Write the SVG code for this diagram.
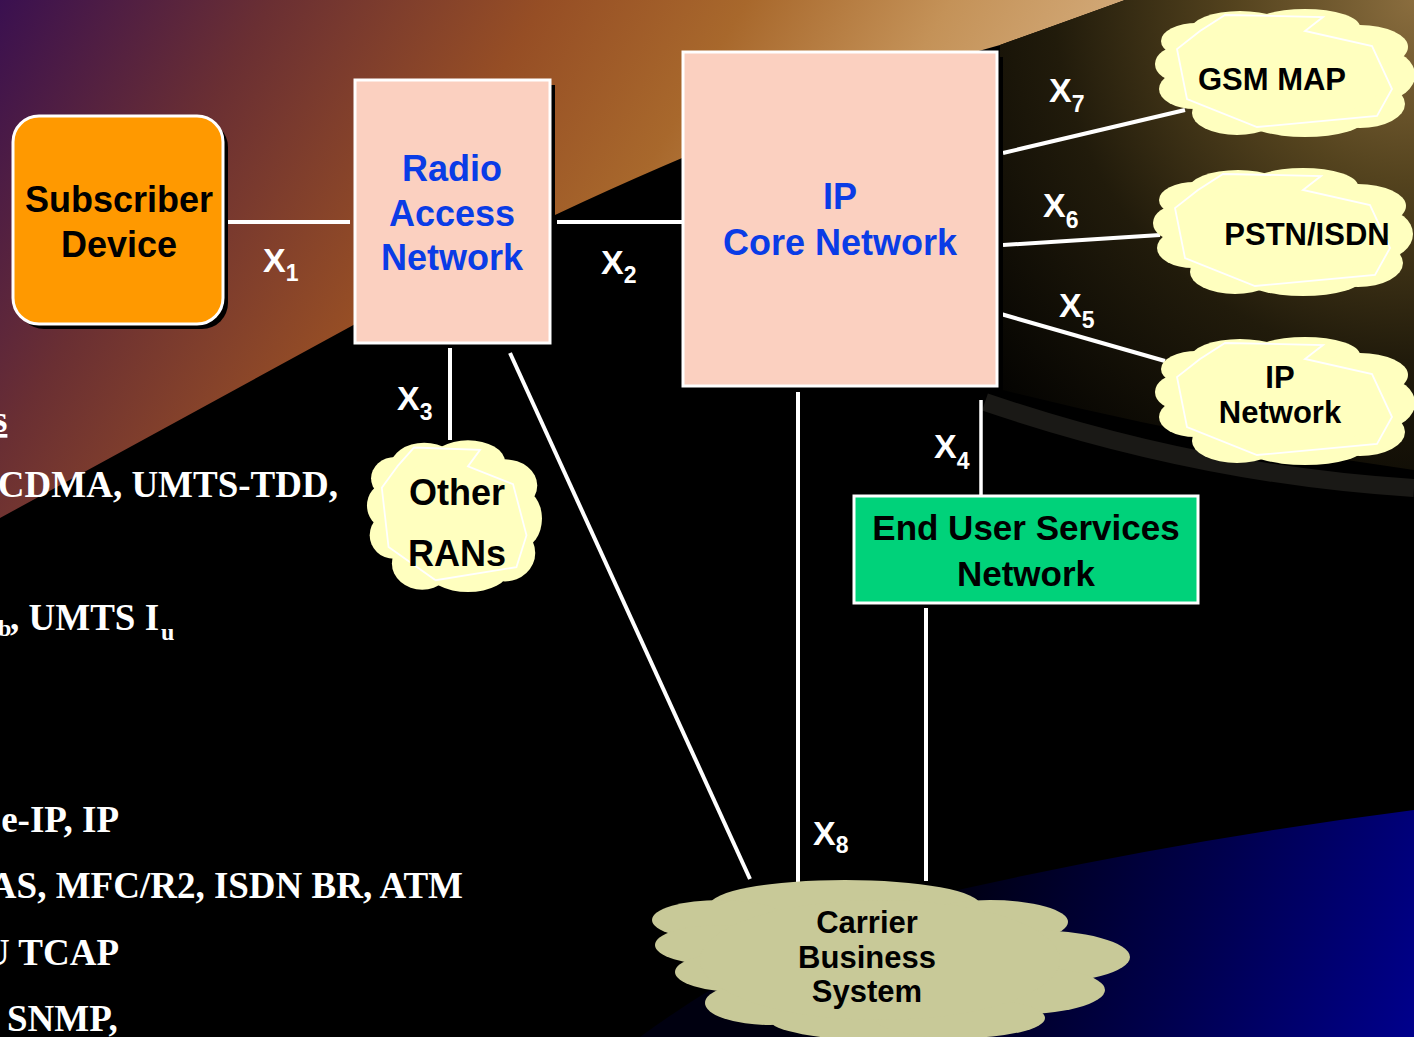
<svg xmlns="http://www.w3.org/2000/svg" xmlns:xlink="http://www.w3.org/1999/xlink" width="1414" height="1037" viewBox="0 0 1414 1037">
<style>
.box{stroke:#ffffff;stroke-width:3}
.shadow{fill:#000000}
.peach{fill:#FBD0C0}
.ttl{font-family:"Liberation Sans",Arial,sans-serif;font-weight:bold;text-anchor:middle}
.blue{fill:#0A3CE6}
.blk{fill:#000000}
.conn{stroke:#ffffff;stroke-width:4;fill:none}
.lbl{font-family:"Liberation Sans",Arial,sans-serif;font-weight:bold;fill:#ffffff;font-size:34px}
.sub{font-size:23px}
.bg{font-family:"Liberation Serif","Times New Roman",serif;font-weight:bold;fill:#ffffff;font-size:37px}
.bgs{font-size:24px}
.cy{fill:#FFFFBF}
.cin{fill:none;stroke:#ffffff;stroke-width:1.8;vector-effect:non-scaling-stroke}
</style>
<defs>
<linearGradient id="warm" gradientUnits="userSpaceOnUse" x1="0" y1="0" x2="1000" y2="600">
<stop offset="0" stop-color="#3a1050"/>
<stop offset="0.2" stop-color="#6a2f33"/>
<stop offset="0.4" stop-color="#964e25"/>
<stop offset="0.55" stop-color="#a8682c"/>
<stop offset="0.7" stop-color="#c49258"/>
<stop offset="0.85" stop-color="#d4ac7c"/>
</linearGradient>
<radialGradient id="disc" gradientUnits="userSpaceOnUse" cx="1414" cy="0" r="600">
<stop offset="0" stop-color="#8a6d3e"/>
<stop offset="0.3" stop-color="#54431e"/>
<stop offset="0.6" stop-color="#211b0b"/>
<stop offset="1" stop-color="#000000"/>
</radialGradient>
<linearGradient id="blueg" gradientUnits="userSpaceOnUse" x1="950" y1="870" x2="1414" y2="1037">
<stop offset="0" stop-color="#000010"/>
<stop offset="0.5" stop-color="#00004c"/>
<stop offset="1" stop-color="#00008c"/>
</linearGradient>
<g id="cloudY">
<g class="cy">
<ellipse cx="85" cy="24" rx="50" ry="20"/>
<ellipse cx="150" cy="20" rx="55" ry="18"/>
<ellipse cx="205" cy="40" rx="48" ry="22"/>
<ellipse cx="228" cy="68" rx="32" ry="25"/>
<ellipse cx="205" cy="97" rx="45" ry="24"/>
<ellipse cx="150" cy="112" rx="60" ry="18"/>
<ellipse cx="82" cy="106" rx="45" ry="22"/>
<ellipse cx="40" cy="82" rx="36" ry="20"/>
<ellipse cx="26" cy="57" rx="26" ry="18"/>
<ellipse cx="42" cy="34" rx="36" ry="18"/>
<ellipse cx="130" cy="65" rx="105" ry="48"/>
</g>
<polygon class="cin" points="45,24 70,8 168,10 150,24 217,39 237,82 222,109 102,120 32,92 22,42"/>
</g>
</defs>

<g id="background">
<rect x="0" y="0" width="1414" height="1037" fill="url(#warm)"/>
<path d="M0,518 L555,215 Q800,100 1000,45 Q1070,20 1125,0 L1414,0 L1414,1037 L0,1037 Z" fill="#000000"/>
<path d="M1000,45 Q1070,20 1125,0 L1414,0 L1414,470 Q1200,440 995,388 Z" fill="url(#disc)"/>
<path d="M985,402 Q1200,475 1414,488" fill="none" stroke="#1a1916" stroke-width="18"/>
<path d="M640,1037 Q800,920 958,890 Q1180,840 1414,810 L1414,1037 Z" fill="url(#blueg)"/>
<text class="bg" x="-7" y="432" text-decoration="underline">s</text>
<text class="bg" x="338" y="497" text-anchor="end">CDMA, UMTS-TDD,</text>
<text class="bg bgs" x="-2" y="636">b</text>
<text class="bg" x="10" y="630">, UMTS I</text>
<text class="bg bgs" x="161" y="640">u</text>
<text class="bg" x="119" y="832" text-anchor="end">e-IP, IP</text>
<text class="bg" x="463" y="898" text-anchor="end">AS, MFC/R2, ISDN BR, ATM</text>
<text class="bg" x="119" y="965" text-anchor="end">U TCAP</text>
<text class="bg" x="7" y="1031">SNMP,</text>
</g>

<g id="connectors">
<line class="conn" x1="225" y1="222" x2="350" y2="222"/>
<line class="conn" x1="557" y1="222" x2="682" y2="222"/>
<line class="conn" x1="450" y1="343" x2="450" y2="440"/>
<line class="conn" x1="510" y1="353" x2="750" y2="879"/>
<line class="conn" x1="798" y1="386" x2="798" y2="883"/>
<line class="conn" x1="981" y1="400" x2="981" y2="495" style="stroke-width:3.5"/>
<line class="conn" x1="926" y1="608" x2="926" y2="881"/>
<line class="conn" x1="1003" y1="153" x2="1185" y2="110"/>
<line class="conn" x1="1003" y1="245" x2="1160" y2="235"/>
<line class="conn" x1="1001" y1="314" x2="1165" y2="361"/>
<text class="lbl" x="263" y="272">X<tspan class="sub" dy="9">1</tspan></text>
<text class="lbl" x="601" y="274">X<tspan class="sub" dy="9">2</tspan></text>
<text class="lbl" x="397" y="410">X<tspan class="sub" dy="10">3</tspan></text>
<text class="lbl" x="934" y="458">X<tspan class="sub" dy="11">4</tspan></text>
<text class="lbl" x="1059" y="317">X<tspan class="sub" dy="11">5</tspan></text>
<text class="lbl" x="1043" y="217">X<tspan class="sub" dy="11">6</tspan></text>
<text class="lbl" x="1049" y="102">X<tspan class="sub" dy="10">7</tspan></text>
<text class="lbl" x="813" y="845">X<tspan class="sub" dy="8">8</tspan></text>
</g>

<g id="subscriber-device">
<rect class="shadow" x="18" y="121" width="210" height="208" rx="26"/>
<rect class="box" x="13" y="116" width="210" height="208" rx="26" fill="#FF9900"/>
<text class="ttl blk" x="119" y="212" font-size="36">Subscriber</text>
<text class="ttl blk" x="119" y="257" font-size="36">Device</text>
</g>

<g id="radio-access-network">
<rect class="shadow" x="360" y="85" width="195" height="263"/>
<rect class="box peach" x="355" y="80" width="195" height="263"/>
<text class="ttl blue" x="452" y="181" font-size="36">Radio</text>
<text class="ttl blue" x="452" y="226" font-size="36">Access</text>
<text class="ttl blue" x="452" y="270" font-size="36">Network</text>
</g>

<g id="ip-core-network">
<rect class="shadow" x="688" y="57" width="315" height="335"/>
<rect class="box peach" x="683" y="52" width="314" height="334"/>
<text class="ttl blue" x="840" y="209" font-size="36">IP</text>
<text class="ttl blue" x="840" y="255" font-size="36">Core Network</text>
</g>

<g id="end-user-services-network">
<rect class="box" x="854" y="496" width="344" height="107" fill="#00D27A"/>
<text class="ttl blk" x="1026" y="540" font-size="35">End User Services</text>
<text class="ttl blk" x="1026" y="586" font-size="35">Network</text>
</g>

<g id="gsm-map">
<use xlink:href="#cloudY" href="#cloudY" transform="translate(1155,7)"/>
<text class="ttl blk" x="1272" y="90" font-size="31">GSM MAP</text>
</g>

<g id="pstn-isdn">
<use xlink:href="#cloudY" href="#cloudY" transform="translate(1153,166)"/>
<text class="ttl blk" x="1307" y="245" font-size="31">PSTN/ISDN</text>
</g>

<g id="ip-network">
<use xlink:href="#cloudY" href="#cloudY" transform="translate(1155,335)"/>
<text class="ttl blk" x="1280" y="388" font-size="31">IP</text>
<text class="ttl blk" x="1280" y="423" font-size="31">Network</text>
</g>

<g id="other-rans">
<use xlink:href="#cloudY" href="#cloudY" transform="translate(367,438) scale(0.673,1.185)"/>
<text class="ttl blk" x="457" y="505" font-size="36">Other</text>
<text class="ttl blk" x="457" y="566" font-size="36">RANs</text>
</g>

<g id="carrier-business-system">
<g fill="#C8C998">
<ellipse cx="845" cy="905" rx="135" ry="25"/>
<ellipse cx="720" cy="920" rx="68" ry="20"/>
<ellipse cx="720" cy="945" rx="65" ry="20"/>
<ellipse cx="740" cy="972" rx="65" ry="20"/>
<ellipse cx="770" cy="1003" rx="65" ry="22"/>
<ellipse cx="880" cy="1020" rx="110" ry="20"/>
<ellipse cx="990" cy="922" rx="78" ry="22"/>
<ellipse cx="1030" cy="957" rx="100" ry="27"/>
<ellipse cx="1010" cy="990" rx="95" ry="25"/>
<ellipse cx="960" cy="1018" rx="85" ry="20"/>
<ellipse cx="880" cy="960" rx="180" ry="60"/>
</g>
<text class="ttl blk" x="867" y="933" font-size="31">Carrier</text>
<text class="ttl blk" x="867" y="968" font-size="31">Business</text>
<text class="ttl blk" x="867" y="1002" font-size="31">System</text>
</g>
</svg>
